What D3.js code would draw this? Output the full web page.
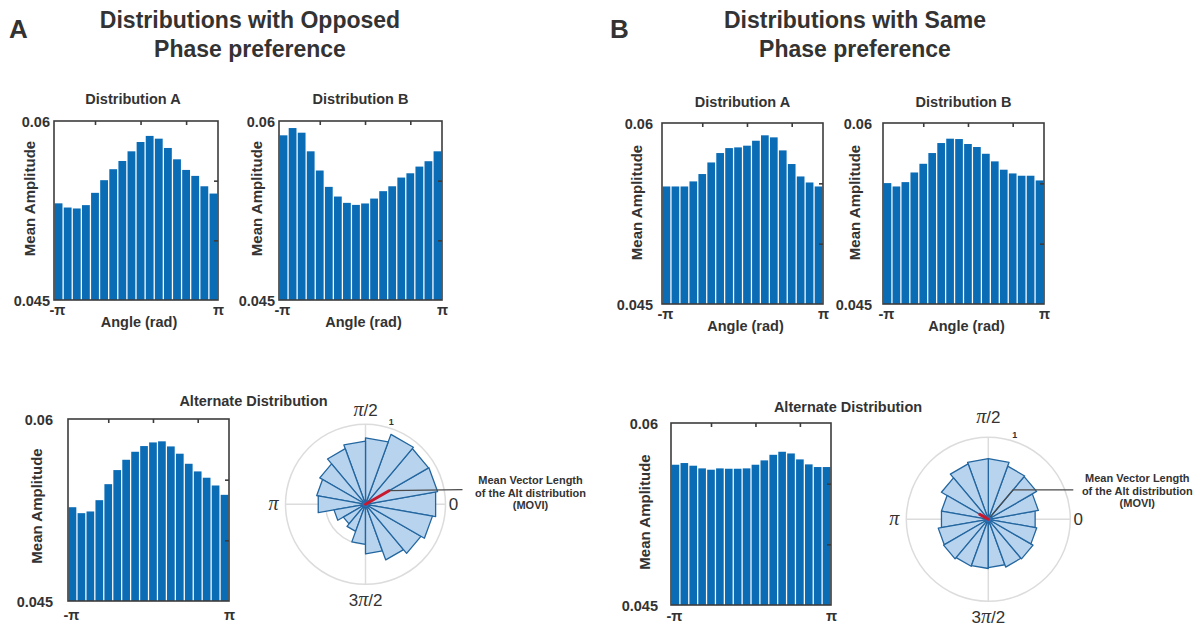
<!DOCTYPE html>
<meta charset="utf-8">
<style>
body { margin: 0; background: #fff; }
text { font-family: "Liberation Sans", Arial, sans-serif; fill: #333; }
.ttl { font-weight: bold; }
</style>
<svg width="1201" height="630"></svg>
<script src="https://d3js.org/d3.v7.min.js"></script>
<script>

// 18 phase bins, -pi..pi
var bins = d3.range(1, 19);

// mean amplitude per bin
var oppDistA = [0.0531, 0.05275, 0.05267, 0.05295, 0.05398, 0.05504, 0.05596, 0.05665, 0.05746,
                0.05824, 0.05875, 0.05852, 0.05774, 0.05679, 0.0559, 0.0554, 0.05453, 0.05392];
var oppDistB = [0.0588, 0.05941, 0.05902, 0.05746, 0.05585, 0.05448, 0.05367, 0.05314, 0.05297,
                0.05309, 0.0535, 0.05412, 0.05453, 0.05526, 0.05562, 0.05618, 0.05663, 0.05746];
var oppAlt   = [0.05273, 0.05224, 0.05238, 0.05331, 0.05463, 0.05579, 0.05664, 0.0573, 0.05777,
                0.05807, 0.05816, 0.05774, 0.05714, 0.05631, 0.05568, 0.05516, 0.05452, 0.05375];
var sameDistA = [0.05474, 0.05474, 0.05474, 0.05516, 0.05577, 0.05673, 0.05751, 0.05792, 0.05798,
                 0.05812, 0.05853, 0.05898, 0.05881, 0.05773, 0.0566, 0.05557, 0.05507, 0.05474];
var sameDistB = [0.05502, 0.05474, 0.0551, 0.0559, 0.05662, 0.05751, 0.05834, 0.0587, 0.05867,
                 0.05826, 0.05801, 0.05745, 0.05682, 0.05613, 0.05582, 0.05563, 0.05563, 0.05524];
var sameAlt   = [0.05656, 0.0567, 0.05648, 0.05626, 0.05615, 0.05626, 0.05623, 0.05623, 0.05626,
                 0.05656, 0.05692, 0.05738, 0.05763, 0.05749, 0.057, 0.05659, 0.05637, 0.05637];

var yTicks = [0.045, 0.05, 0.055, 0.06];
var yLabelTicks = [0.045, 0.06];

// rose plots (bin centres in degrees, normalised length)
var roseDeg = d3.range(0, 360, 20);
var oppRose  = [0.89, 0.915, 0.91, 0.93, 0.83, 0.79, 0.74, 0.66, 0.62, 0.6,
                0.4, 0.32, 0.36, 0.5, 0.62, 0.74, 0.8, 0.85];
var sameRose = [0.58, 0.62, 0.68, 0.69, 0.74, 0.74, 0.72, 0.66, 0.58, 0.58,
                0.62, 0.63, 0.61, 0.6, 0.59, 0.62, 0.63, 0.6];
var oppMvl = [0.34, 30];    // length, angle (deg)
var sameMvl = [0.12, 150];

var svg = d3.select("svg");
svg.append("rect").attr("width", 1201).attr("height", 630).attr("fill", "#fff");

function hist(c) {
  var g = svg.append("g");
  var x = d3.scaleLinear().domain([0.5, 18.5]).range([c.left, c.left + c.w]);
  var y = d3.scaleLinear().domain([0.045, 0.06]).range([c.top + c.h, c.top]);
  var xr = d3.scaleLinear().domain([-Math.PI, Math.PI]).range([c.left, c.left + c.w]);
  var bw = x(0.86) - x(0);

  var clipId = "clip" + Math.round(c.left);
  svg.append("clipPath").attr("id", clipId)
    .append("rect").attr("x", c.left).attr("y", c.top).attr("width", c.w).attr("height", c.h);

  g.append("g").attr("clip-path", "url(#" + clipId + ")")
    .selectAll("rect").data(c.values).enter().append("rect")
      .attr("x", function(d, i) { return x(bins[i]) - bw / 2; })
      .attr("y", function(d) { return y(d); })
      .attr("width", bw)
      .attr("height", function(d) { return y(0.045) - y(d); })
      .attr("fill", "#0b6cb6");

  g.append("rect")
      .attr("x", c.left).attr("y", c.top).attr("width", c.w).attr("height", c.h)
      .attr("fill", "none").attr("stroke", "#3c3c3c").attr("stroke-width", 1.6);

  // inner ticks top and right
  var top = g.append("g").attr("transform", "translate(0," + c.top + ")")
      .call(d3.axisBottom(x).tickValues([5, 10, 15]).tickSize(4).tickFormat(""));
  var right = g.append("g").attr("transform", "translate(" + (c.left + c.w) + ",0)")
      .call(d3.axisLeft(y).tickValues([0.05, 0.055]).tickSize(4).tickFormat(""));
  [top, right].forEach(function(a) {
    a.select(".domain").remove();
    a.selectAll("line").attr("stroke", "#3c3c3c").attr("stroke-width", 1.6);
  });

  var left = g.append("g").attr("transform", "translate(" + c.left + ",0)")
      .call(d3.axisLeft(y).tickValues(yLabelTicks).tickSize(0).tickPadding(c.tickGap)
        .tickFormat(d3.format(".3~f")));
  var bottom = g.append("g").attr("transform", "translate(0," + (c.top + c.h) + ")")
      .call(d3.axisBottom(xr).tickValues([-Math.PI, Math.PI]).tickSize(0).tickPadding(c.piPad)
        .tickFormat(function(d) { return d < 0 ? "-π" : "π"; }));
  [left, bottom].forEach(function(a) {
    a.select(".domain").remove();
    a.attr("font-family", null).attr("font-size", null);
    a.selectAll("text").attr("font-size", 14.5).attr("font-weight", "bold").attr("fill", "#333");
  });
  left.selectAll("text").attr("dy", "0.36em");
  bottom.selectAll("text").attr("dx", function(d) { return d < 0 ? 3 : 0; });

  g.append("text").attr("class", "ttl")
      .attr("x", c.left + c.w / 2 + (c.titleDx || 0)).attr("y", c.titleY)
      .attr("text-anchor", "middle").attr("font-size", 14.5)
      .text(c.title);

  g.append("text").attr("class", "ttl")
      .attr("transform", "translate(" + (c.left - c.ylabOff) + "," + (c.top + c.h / 2 + c.ylabDy) + ") rotate(-90)")
      .attr("text-anchor", "middle").attr("font-size", 15)
      .text("Mean Amplitude");

  if (c.xlabel) {
    g.append("text").attr("class", "ttl")
        .attr("x", c.left + c.w / 2 + 3).attr("y", c.top + c.h + 27)
        .attr("text-anchor", "middle").attr("font-size", 14.5)
        .text("Angle (rad)");
  }
}

function rose(c) {
  var g = svg.append("g").attr("transform", "translate(" + c.cx + "," + c.cy + ")");
  var r = d3.scaleLinear().domain([0, 1]).range([0, c.R]);
  var rad = function(deg) { return deg * Math.PI / 180; };
  // screen point for math angle (ccw from east)
  var pt = function(len, deg) { return [r(len) * Math.cos(rad(deg)), -r(len) * Math.sin(rad(deg))]; };

  g.selectAll("circle.grid").data([0.5, 1]).enter().append("circle")
      .attr("class", "grid").attr("r", function(d) { return r(d); })
      .attr("fill", "none").attr("stroke", "#dcdcdc").attr("stroke-width", 1.5);
  g.selectAll("line.spoke").data([0, 90]).enter().append("line")
      .attr("class", "spoke")
      .attr("x1", function(d) { return pt(1, d)[0]; }).attr("y1", function(d) { return pt(1, d)[1]; })
      .attr("x2", function(d) { return pt(1, d + 180)[0]; }).attr("y2", function(d) { return pt(1, d + 180)[1]; })
      .attr("stroke", "#dcdcdc").attr("stroke-width", 1.5);

  var line = d3.line();
  g.selectAll("path.wedge").data(c.radii).enter().append("path")
      .attr("class", "wedge")
      .attr("d", function(d, i) {
        var a = roseDeg[i];
        return line([[0, 0], pt(d, a - 10), pt(d, a + 10)]) + "Z";
      })
      .attr("fill", "#b7d3ee").attr("stroke", "#23669f").attr("stroke-width", 1.3)
      .attr("stroke-linejoin", "round");

  g.append("circle").attr("r", 3).attr("fill", "#2a6fb5");

  var tip = pt(c.mvl[0], c.mvl[1]);
  g.append("path").attr("d", line([[0, 0], tip]))
      .attr("stroke", "#c8192e").attr("stroke-width", 3).attr("stroke-linecap", "round");

  // annotation leader
  g.append("path").attr("d", line(c.leader(pt, tip)))
      .attr("fill", "none").attr("stroke", "#4a4a4a").attr("stroke-width", 1.2);

  var note = g.append("text").attr("class", "ttl").attr("text-anchor", "middle")
      .attr("font-size", 11).attr("fill", "#444");
  ["Mean Vector Length", "of the Alt distribution", "(MOVI)"].forEach(function(s, i) {
    note.append("tspan").attr("x", c.noteX).attr("y", c.noteY + i * 12.3).text(s);
  });

  // angle labels
  var lab = [
    {pre: "", post: "/2", x: 0, y: -c.R - 8 + (c.topDy || 0)},
    {pre: "", post: "", x: -c.R - 12, y: 6},
    {txt: "0", x: c.R + 8, y: 6},
    {pre: "3", post: "/2", x: 0, y: c.R + 22}
  ];
  lab.forEach(function(l) {
    var t = g.append("text").attr("x", l.x).attr("y", l.y).attr("text-anchor", "middle")
        .attr("font-size", 17).attr("fill", "#333");
    if (l.txt) { t.text(l.txt); return; }
    if (l.pre) t.append("tspan").text(l.pre);
    t.append("tspan").attr("font-family", "'Liberation Serif', serif").attr("font-style", "italic")
        .attr("font-size", 20).text("π");
    if (l.post) t.append("tspan").text(l.post);
  });
  var one = pt(1.04, 72);
  g.append("text").attr("x", one[0]).attr("y", one[1]).attr("text-anchor", "middle")
      .attr("font-size", 9).attr("font-weight", "bold").text("1");
}

// panel headings
[["A", 9, 250, "Distributions with Opposed"], ["B", 610, 855, "Distributions with Same"]].forEach(function(p) {
  svg.append("text").attr("class", "ttl").attr("x", p[1]).attr("y", 38)
      .attr("font-size", 26).text(p[0]);
  var t = svg.append("text").attr("class", "ttl").attr("text-anchor", "middle").attr("font-size", 23);
  t.append("tspan").attr("x", p[2]).attr("y", 28).text(p[3]);
  t.append("tspan").attr("x", p[2]).attr("y", 57).text("Phase preference");
});

hist({left: 54, top: 121, w: 164, h: 179, values: oppDistA, title: "Distribution A", titleY: 104,
      xlabel: true, ylabOff: 19, ylabDy: -12, tickGap: 4, piPad: 5, titleDx: -3});
hist({left: 279, top: 121, w: 163, h: 179, values: oppDistB, title: "Distribution B", titleY: 104,
      xlabel: true, ylabOff: 17, ylabDy: -12, tickGap: 4, piPad: 5, titleDx: 0});
hist({left: 68, top: 419, w: 161, h: 182, values: oppAlt, title: "Alternate Distribution", titleY: 406,
      xlabel: false, ylabOff: 26, ylabDy: -4, tickGap: 15, piPad: 9, titleDx: 105});
hist({left: 662, top: 123, w: 161, h: 181, values: sameDistA, title: "Distribution A", titleY: 107,
      xlabel: true, ylabOff: 20, ylabDy: -11, tickGap: 9, piPad: 5, titleDx: 0});
hist({left: 883, top: 123, w: 161, h: 181, values: sameDistB, title: "Distribution B", titleY: 107,
      xlabel: true, ylabOff: 23, ylabDy: -11, tickGap: 11, piPad: 5, titleDx: 0});
hist({left: 671, top: 423, w: 160, h: 182, values: sameAlt, title: "Alternate Distribution", titleY: 412,
      xlabel: false, ylabOff: 21, ylabDy: -2, tickGap: 13, piPad: 6, titleDx: 97});

rose({cx: 365.5, cy: 504.3, R: 80, radii: oppRose, mvl: oppMvl, noteX: 165, noteY: -20,
      leader: function(pt, tip) { return [tip, [97, tip[1] - 1]]; }});
rose({cx: 988.3, cy: 519.3, R: 82, radii: sameRose, mvl: sameMvl, noteX: 149, noteY: -37, topDy: -6,
      leader: function(pt, tip) { var e = pt(0.47, 50); return [pt(0.04, 50), e, [85, e[1]]]; }});

</script>
